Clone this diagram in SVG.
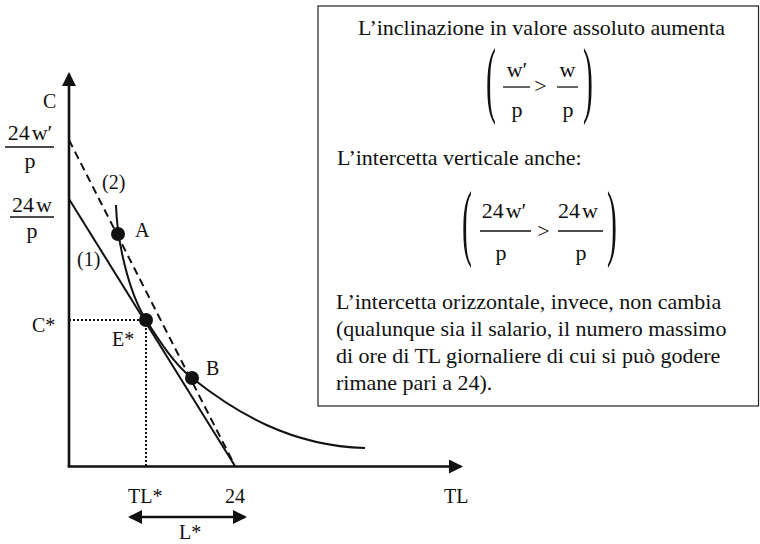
<svg xmlns="http://www.w3.org/2000/svg" width="760" height="544" viewBox="0 0 760 544">
<style>
text{font-family:"Liberation Serif","Times New Roman",serif;fill:#111}
.lb{font-size:20px}
.bx{font-size:22px}
.fr{font-size:22px;text-anchor:middle}
.par{font-size:85px}
.ax{stroke:#111;stroke-width:2.6;fill:none}
.ln{stroke:#111;stroke-width:2;fill:none}
.bar{stroke:#111;stroke-width:1.3}
.dot{fill:#111}
</style>
<defs>
<marker id="ah" markerUnits="userSpaceOnUse" markerWidth="14" markerHeight="14" refX="12" refY="7" orient="auto-start-reverse">
<path d="M0,0 L14,7 L0,14 z" fill="#111"/>
</marker>
</defs>
<rect x="0" y="0" width="760" height="544" fill="#fff"/>
<g id="box" font-family="Liberation Serif, serif">
<rect x="318" y="6" width="440.5" height="400" fill="none" stroke="#222" stroke-width="1.2"/>
<text class="bx" x="358" y="35">L’inclinazione in valore assoluto aumenta</text>
<text class="par" transform="translate(486,107) scale(0.35,1)">(</text>
<text class="fr" x="517" y="77">w′</text>
<line class="bar" x1="503" y1="87" x2="530" y2="87"/>
<text class="fr" x="517" y="117">p</text>
<text class="fr" x="540.5" y="93">&gt;</text>
<text class="fr" x="567.5" y="77">w</text>
<line class="bar" x1="557" y1="87" x2="578" y2="87"/>
<text class="fr" x="568" y="117">p</text>
<text class="par" transform="translate(583,107) scale(0.35,1)">)</text>
<text class="bx" x="337" y="165">L’intercetta verticale anche:</text>
<text class="par" transform="translate(462,250) scale(0.35,1)">(</text>
<text class="fr" x="504" y="218">24<tspan dx="2">w′</tspan></text>
<line class="bar" x1="480" y1="231" x2="531" y2="231"/>
<text class="fr" x="501" y="260">p</text>
<text class="fr" x="543.5" y="238">&gt;</text>
<text class="fr" x="578" y="218">24<tspan dx="2">w</tspan></text>
<line class="bar" x1="558" y1="231" x2="603" y2="231"/>
<text class="fr" x="581" y="260">p</text>
<text class="par" transform="translate(607,250) scale(0.35,1)">)</text>
<text class="bx" x="336" y="309">L’intercetta orizzontale, invece, non cambia</text>
<text class="bx" x="336" y="336">(qualunque sia il salario, il numero massimo</text>
<text class="bx" x="336" y="363">di ore di TL giornaliere di cui si può godere</text>
<text class="bx" x="336" y="390">rimane pari a 24).</text>
</g>
<g id="connectors">
<line class="ax" x1="69" y1="467" x2="69" y2="74" marker-end="url(#ah)"/>
<line class="ax" x1="67.7" y1="466.5" x2="461" y2="466.5" marker-end="url(#ah)"/>
<line class="ln" x1="69" y1="199" x2="235" y2="466"/>
<line class="ln" x1="69" y1="140" x2="234" y2="464" stroke-dasharray="8,5"/>
<line class="ln" x1="69" y1="320" x2="146" y2="320" stroke-dasharray="2,2"/>
<line class="ln" x1="146" y1="320" x2="146" y2="466" stroke-dasharray="2,2"/>
<path class="ln" d="M116,205 C117,240 128,291 146,320 C160,342 175,365 192,378 C235,412 290,446 365,448"/>
<line class="ax" x1="130" y1="517" x2="245" y2="517" marker-start="url(#ah)" marker-end="url(#ah)"/>
</g>
<g id="A"><circle class="dot" cx="118" cy="234" r="7"/><text class="lb" x="135" y="237">A</text></g>
<g id="E"><circle class="dot" cx="146" cy="320" r="7"/><text class="lb" x="112" y="346">E*</text></g>
<g id="B"><circle class="dot" cx="192" cy="378" r="7"/><text class="lb" x="206" y="375">B</text></g>
<g id="labels">
<text class="lb" x="43" y="108">C</text>
<text class="fr" x="30" y="140">24<tspan dx="2">w′</tspan></text>
<line class="bar" x1="5" y1="147" x2="54" y2="147"/>
<text class="fr" x="30" y="168">p</text>
<text class="fr" x="32" y="212">24<tspan dx="2">w</tspan></text>
<line class="bar" x1="10" y1="217" x2="54" y2="217"/>
<text class="fr" x="32" y="238">p</text>
<text class="lb" x="102" y="189">(2)</text>
<text class="lb" x="77" y="266">(1)</text>
<text class="lb" x="32" y="332">C*</text>
<text class="lb" x="128" y="503">TL*</text>
<text class="lb" x="225" y="503">24</text>
<text class="lb" x="444" y="503">TL</text>
<text class="lb" x="179" y="539">L*</text>
</g>
</svg>
